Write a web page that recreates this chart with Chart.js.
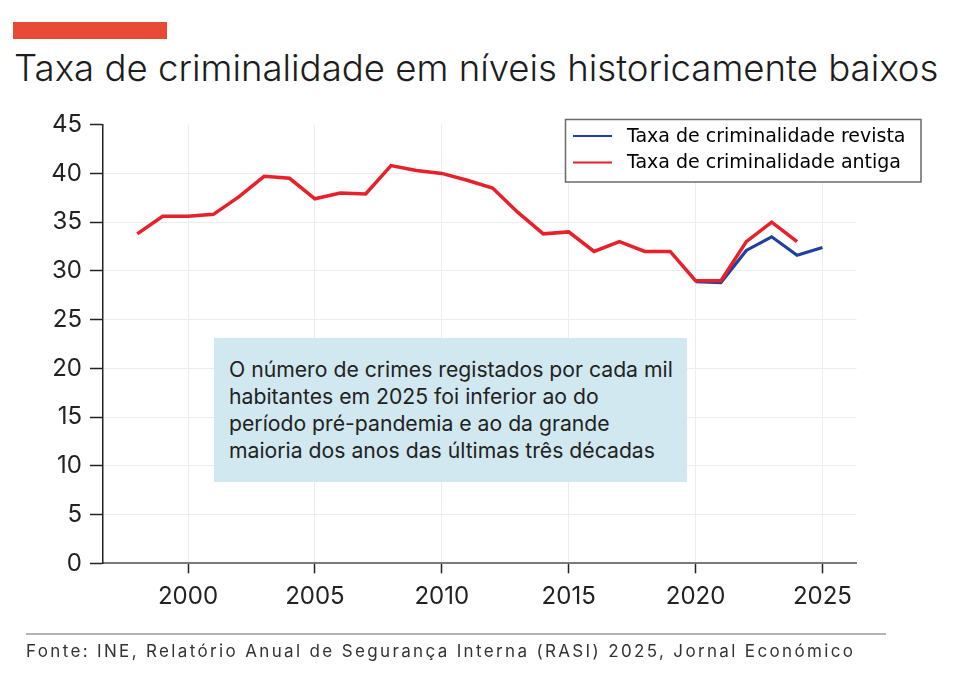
<!DOCTYPE html>
<html><head><meta charset="utf-8">
<script src="https://cdn.jsdelivr.net/npm/chart.js@4.4.0/dist/chart.umd.min.js"></script>
<style>
body{margin:0;background:#fff;width:960px;height:690px;position:relative;overflow:hidden;font-family:Inter,sans-serif;}
#bar{position:absolute;left:13px;top:22px;width:154px;height:17px;background:#e84a35;}
#title{position:absolute;left:14px;top:50px;font-size:36.6px;line-height:37px;font-weight:300;color:#1d1d1d;white-space:nowrap;}
#wrap{position:absolute;left:0;top:0;width:960px;height:690px;}
#note{position:absolute;left:214px;top:338px;width:458px;height:126px;padding:18px 0 0 15px;background:#d2e8f0;font-size:21.2px;line-height:27px;color:#222;white-space:nowrap;}
#rule{position:absolute;left:26px;top:633px;width:860px;height:2px;background:#b4b4b4;}
#source{position:absolute;left:26px;top:643px;font-size:17px;line-height:17px;color:#333;white-space:nowrap;letter-spacing:2.35px;}
</style>
</head><body>
<div id="bar"></div>
<div id="title">Taxa de criminalidade em níveis historicamente baixos</div>
<div id="wrap"><canvas id="c" width="960" height="690"></canvas></div>
<div id="note">O número de crimes registados por cada mil<br>habitantes em 2025 foi inferior ao do<br>período pré-pandemia e ao da grande<br>maioria dos anos das últimas três décadas</div>
<div id="rule"></div>
<div id="source">Fonte: INE, Relatório Anual de Segurança Interna (RASI) 2025, Jornal Económico</div>
<script>
const years = [1998,1999,2000,2001,2002,2003,2004,2005,2006,2007,2008,2009,2010,2011,2012,2013,2014,2015,2016,2017,2018,2019,2020,2021,2022,2023,2024,2025];
const oldRate = [33.8,35.6,35.6,35.8,37.6,39.7,39.5,37.4,38.0,37.9,40.8,40.3,40.0,39.3,38.5,36.0,33.8,34.0,32.0,33.0,32.0,32.0,29.0,29.0,33.0,35.0,33.0,null];
const revisedRate = [null,null,null,null,null,null,null,null,null,null,null,null,null,null,null,null,null,null,null,null,null,null,28.9,28.8,32.1,33.5,31.6,32.4];
const xTicks = [2000,2005,2010,2015,2020,2025];
const yTicks = [0,5,10,15,20,25,30,35,40,45];
const seriesLabels = ['Taxa de criminalidade revista','Taxa de criminalidade antiga'];

const pts = arr => years.map((y,i)=>({x:y,y:arr[i]}));

const legendBox = {
  id:'legendBox',
  afterDatasetsDraw(chart){
    const ctx = chart.ctx;
    const x0 = 565.5, y0 = 119.5, w = 355.5, h = 62.5;
    ctx.save();
    ctx.fillStyle = '#fff';
    ctx.fillRect(x0,y0,w,h);
    ctx.strokeStyle = '#6a6a6a';
    ctx.lineWidth = 1.5;
    ctx.strokeRect(x0,y0,w,h);
    ctx.font = '19px "DejaVu Sans"';
    ctx.textBaseline = 'middle';
    const rows = [136, 162.5];
    chart.data.datasets.forEach((ds,i)=>{
      ctx.strokeStyle = ds.borderColor;
      ctx.lineWidth = 2.2;
      ctx.beginPath();
      ctx.moveTo(573, rows[i]);
      ctx.lineTo(612, rows[i]);
      ctx.stroke();
      ctx.fillStyle = '#000';
      ctx.fillText(ds.label, 627, rows[i]+1);
    });
    ctx.restore();
  }
};

new Chart(document.getElementById('c'), {
  type:'line',
  data:{
    datasets:[
      {label:seriesLabels[0], data:pts(revisedRate), borderColor:'#2141a0', borderWidth:3.2, pointRadius:0, tension:0, order:1, spanGaps:false},
      {label:seriesLabels[1], data:pts(oldRate), borderColor:'#e8202a', borderWidth:3.5, pointRadius:0, tension:0, order:0, spanGaps:false}
    ]
  },
  options:{
    responsive:false,
    animation:false,
    devicePixelRatio:1,
    layout:{padding:{left:0,right:103.3,top:124.7,bottom:66.7}},
    plugins:{legend:{display:false},tooltip:{enabled:false},title:{display:false}},
    scales:{
      x:{
        type:'linear',
        min:1996.65, max:2026.35,
        afterBuildTicks(scale){ scale.ticks = xTicks.map(v=>({value:v})); },
        afterFit(scale){ scale.height = 60; },
        ticks:{callback:v=>String(v), font:{family:'Inter',size:24}, color:'#222', padding:9, maxRotation:0, autoSkip:false},
        grid:{color:'#ececec', lineWidth:1, tickColor:'#222', tickLength:10, tickWidth:1.5, drawOnChartArea:true},
        border:{color:'#7a7a7a', width:2}
      },
      y:{
        type:'linear',
        min:0, max:45,
        afterBuildTicks(scale){ scale.ticks = yTicks.map(v=>({value:v})); },
        afterFit(scale){ scale.width = 103; },
        ticks:{font:{family:'Inter',size:24}, color:'#222', padding:8},
        grid:{color:ctx=> (ctx.tick && (ctx.tick.value===45||ctx.tick.value===0)) ? 'rgba(0,0,0,0)' : '#ececec', lineWidth:1, tickColor:'#222', tickLength:13, tickWidth:1.5},
        border:{color:'#222', width:1.5}
      }
    }
  },
  plugins:[legendBox]
});
</script>
</body></html>
